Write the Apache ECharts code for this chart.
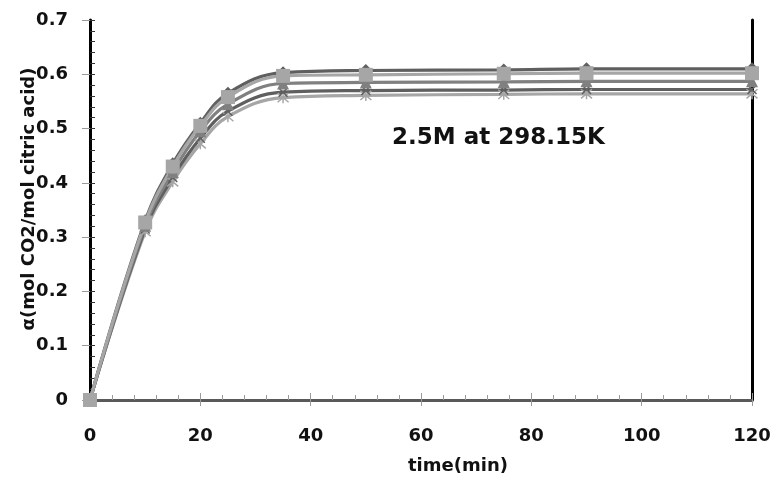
<!DOCTYPE html>
<html><head><meta charset="utf-8">
<script src="https://cdn.jsdelivr.net/npm/echarts@6/dist/echarts.min.js"></script>
<style>html,body{margin:0;padding:0;background:#fff}#c{width:775px;height:482px}</style>
</head><body><div id="c"></div>
<script>
var times = [0, 10, 15, 20, 25, 35, 50, 75, 90, 120];
var s1 = [0, 0.330, 0.435, 0.510, 0.565, 0.603, 0.607, 0.608, 0.610, 0.610];
var s2 = [0, 0.327, 0.430, 0.505, 0.558, 0.597, 0.599, 0.601, 0.602, 0.602];
var s3 = [0, 0.321, 0.420, 0.495, 0.545, 0.583, 0.585, 0.586, 0.587, 0.587];
var s4 = [0, 0.315, 0.410, 0.482, 0.532, 0.567, 0.570, 0.571, 0.572, 0.572];
var s5 = [0, 0.310, 0.402, 0.472, 0.522, 0.557, 0.561, 0.563, 0.564, 0.564];
var xTicks = [0, 20, 40, 60, 80, 100, 120];
var yTicks = [0, 0.1, 0.2, 0.3, 0.4, 0.5, 0.6, 0.7];
var titleText = '2.5M at 298.15K';
var xName = 'time(min)';
var yName = 'α(mol CO2/mol citric acid)';

function pts(v){ return times.map(function(t,i){ return [t, v[i]]; }); }
var FONT = 'DejaVu Sans';
var chart = echarts.init(document.getElementById('c'));
var X_SYM = 'path://M0,0L10,10M10,0L0,10';
var STAR_SYM = 'path://M0,0L10,10M10,0L0,10M5,-1L5,11';
function ser(name, data, color, symbol, size, strokeOnly){
  var s = {name:name, type:'line', data:pts(data), smooth:0.4, symbol:symbol, symbolSize:size,
    showAllSymbol:true, lineStyle:{color:color, width:3.2}, z:2};
  if(strokeOnly){ s.itemStyle = {color:'rgba(0,0,0,0)', borderColor:color, borderWidth:1.5}; }
  else { s.itemStyle = {color:color, borderWidth:0}; }
  return s;
}
var yFmt = function(v){ return v===0 ? '0' : v.toFixed(1); };
chart.setOption({
  animation:false,
  backgroundColor:'#fff',
  grid:{left:90, right:23, top:20, bottom:82},
  xAxis:[
    {type:'value', min:0, max:120, interval:20, position:'bottom',
     axisLine:{show:true, lineStyle:{color:'#595959', width:3}},
     axisTick:{show:true, inside:false, length:6, lineStyle:{color:'#9a9a9a', width:1}},
     axisLabel:{margin:27, fontFamily:FONT, fontWeight:'bold', fontSize:18, color:'#111',
       formatter:function(v){ return xTicks.indexOf(v)>=0 ? String(v) : ''; }},
     splitLine:{show:false}},
    {type:'value', min:0, max:120, interval:20, position:'bottom', gridIndex:0,
     axisLine:{show:false}, axisLabel:{show:false}, splitLine:{show:false},
     axisTick:{show:true, inside:true, length:7, lineStyle:{color:'#9a9a9a', width:1}},
     minorTick:{show:true, splitNumber:5, length:5, lineStyle:{color:'#9a9a9a', width:1}}}
  ],
  yAxis:[
    {type:'value', min:0, max:0.7, interval:0.1, position:'left',
     axisLine:{show:true, lineStyle:{color:'#000', width:3}},
     axisTick:{show:true, inside:false, length:8, lineStyle:{color:'#9a9a9a', width:1}},
     axisLabel:{margin:22, fontFamily:FONT, fontWeight:'bold', fontSize:18, color:'#111', formatter:yFmt},
     splitLine:{show:false}},
    {type:'value', min:0, max:0.7, interval:0.1, position:'left',
     axisLine:{show:false}, axisLabel:{show:false}, splitLine:{show:false},
     axisTick:{show:true, inside:true, length:5, lineStyle:{color:'#333', width:1}},
     minorTick:{show:true, splitNumber:5, length:5, lineStyle:{color:'#333', width:1}}},
    {type:'value', min:0, max:0.7, interval:0.1, position:'right',
     axisLine:{show:true, lineStyle:{color:'#000', width:3}},
     axisTick:{show:false}, axisLabel:{show:false}, splitLine:{show:false}}
  ],
  series:[
    ser('s5', s5, '#a6a6a6', STAR_SYM, 11, true),
    ser('s4', s4, '#5f5f5f', X_SYM, 9, true),
    ser('s3', s3, '#808080', 'triangle', 12, false),
    ser('s1', s1, '#5f5f5f', 'diamond', 13, false),
    ser('s2', s2, '#a6a6a6', 'rect', 14, false)
  ],
  graphic:[
    {type:'text', left:392, top:127, style:{text:titleText, fontFamily:FONT, fontWeight:'bold', fontSize:23, fill:'#111'}},
    {type:'text', left:408, top:457, style:{text:xName, fontFamily:FONT, fontWeight:'bold', fontSize:18, fill:'#111'}},
    {type:'text', x:29, y:199, rotation:Math.PI/2,
     style:{text:yName, fontFamily:FONT, fontWeight:'bold', fontSize:18, fill:'#111', align:'center', verticalAlign:'middle'}}
  ]
});
</script></body></html>
